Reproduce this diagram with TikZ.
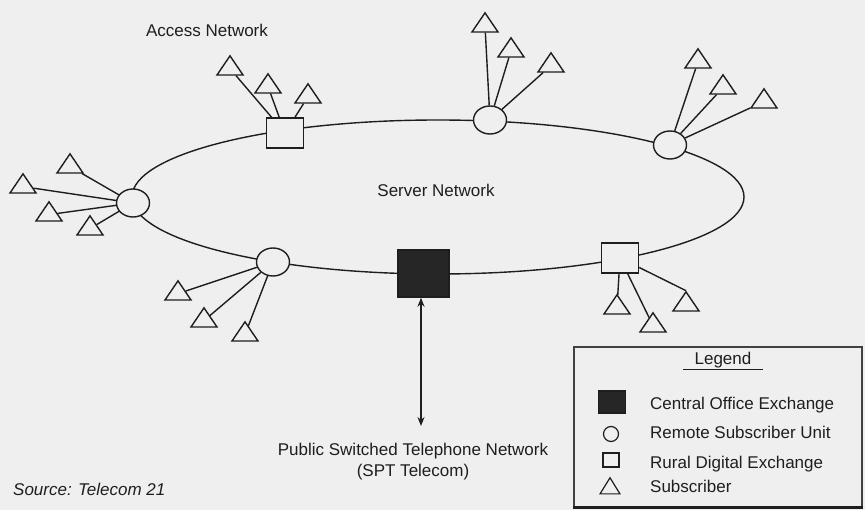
\documentclass[tikz,border=0pt]{standalone}
\usepackage{fontspec}
\setmainfont{Liberation Sans}
\usetikzlibrary{shapes.geometric,arrows.meta}
\definecolor{paper}{HTML}{EFEFEF}
\definecolor{ink}{HTML}{1E1E1E}
\definecolor{solid}{HTML}{262626}
\tikzset{
  lbl/.style={font=\fontsize{17}{21}\selectfont, text=ink, inner sep=0pt},
  link/.style={draw=ink, line width=1.4pt},
  rsu/.style={ellipse, draw=ink, line width=1.4pt, fill=paper,
    minimum width=33pt, minimum height=28pt, inner sep=0pt},
  rde/.style={rectangle, draw=ink, line width=1.4pt, fill=paper,
    minimum width=37pt, minimum height=30pt, inner sep=0pt},
  coe/.style={rectangle, draw=ink, line width=1.4pt, fill=solid,
    minimum width=51pt, minimum height=47pt, inner sep=0pt},
  sub/.style={regular polygon, regular polygon sides=3, draw=ink,
    line width=1.4pt, fill=paper, minimum size=30pt, inner sep=0pt,
    yscale=0.85},
}
\begin{document}
\begin{tikzpicture}[x=1pt, y=-1pt]
  % page
  \fill[paper] (0,0) rectangle (865,510);
  \useasboundingbox (0,0) rectangle (865,510);

  % server network ring
  \draw[link] (438,197) ellipse [x radius=306, y radius=77];

  % access nodes on the ring
  \node[rsu] (rsuW)  at (133,203) {};
  \node[rde] (rdeNW) at (285,133) {};
  \node[rsu] (rsuN)  at (490,120) {};
  \node[rsu] (rsuNE) at (670,145) {};
  \node[rde] (rdeSE) at (620,258) {};
  \node[coe] (coe)   at (423.5,273.5) {};
  \node[rsu] (rsuSW) at (273,262) {};

  % subscribers
  \node[sub] (s1)  at (230,68.6) {};
  \node[sub] (s2)  at (268,86.6) {};
  \node[sub] (s3)  at (308,96.6) {};
  \node[sub] (s4)  at (70,166.6) {};
  \node[sub] (s5)  at (23,186.6) {};
  \node[sub] (s6)  at (49,214.6) {};
  \node[sub] (s7)  at (90,228.6) {};
  \node[sub] (s8)  at (485,25.6) {};
  \node[sub] (s9)  at (511,50.6) {};
  \node[sub] (s10) at (551,65.6) {};
  \node[sub] (s11) at (698,61.6) {};
  \node[sub] (s12) at (723,87.6) {};
  \node[sub] (s13) at (764,101.6) {};
  \node[sub] (s14) at (178,293.6) {};
  \node[sub] (s15) at (204,320.6) {};
  \node[sub] (s16) at (245,334.6) {};
  \node[sub] (s17) at (617,307.6) {};
  \node[sub] (s18) at (653,325.6) {};
  \node[sub] (s19) at (686,304.6) {};

  % subscriber lines
  \draw[link] (rdeNW) -- (s1);
  \draw[link] (rdeNW) -- (s2);
  \draw[link] (rdeNW) -- (s3);
  \draw[link] (rsuW) -- (s4);
  \draw[link] (rsuW) -- (s5);
  \draw[link] (rsuW) -- (s6);
  \draw[link] (rsuW) -- (s7);
  \draw[link] (rsuN) -- (s8);
  \draw[link] (rsuN) -- (s9);
  \draw[link] (rsuN) -- (s10);
  \draw[link] (rsuNE) -- (s11);
  \draw[link] (rsuNE) -- (s12);
  \draw[link] (rsuNE) -- (s13);
  \draw[link] (rsuSW) -- (s14);
  \draw[link] (rsuSW) -- (s15);
  \draw[link] (rsuSW) -- (s16);
  \draw[link] (rdeSE) -- (s17);
  \draw[link] (rdeSE) -- (s18);
  \draw[link] (rdeSE) -- (s19.north);

  % link to the public network
  \coordinate (pstnTip) at (421,426);
  \draw[ink, line width=1.6pt, {Stealth[length=9pt,width=7pt]}-{Stealth[length=9pt,width=7pt]}]
    (coe.south -| pstnTip) -- (pstnTip);

  % labels
  \node[lbl, anchor=base] (accLbl) at (207,36.5) {Access Network};
  \node[lbl, anchor=base] (srvLbl) at (436,197) {Server Network};
  \node[lbl, anchor=base] (pstn1) at (413,455) {Public Switched Telephone Network};
  \node[lbl, anchor=base] (pstn2) at (413,476) {(SPT Telecom)};
  \node[lbl, anchor=base west, font=\fontsize{17}{21}\selectfont\itshape] (src) at (13,495) {Source: Telecom 21};

  % legend
  \draw[ink!85, line width=1.3pt] (574,347) rectangle (862,507);
  \draw[ink, line width=3pt] (573,507.5) -- (863,507.5);
  \node[lbl, anchor=base] (lgTitle) at (723,365) {Legend};
  \draw[ink, line width=0.9pt] (683,369.5) -- (763,369.5);

  \node[coe, minimum width=27pt, minimum height=22pt] (lgCO) at (612,402) {};
  \node[rsu, minimum width=15pt, minimum height=15pt, line width=1.2pt] (lgRSU) at (611,434) {};
  \node[rde, minimum width=16pt, minimum height=14pt, line width=1.1pt] (lgRDE) at (611,460) {};
  \node[sub, minimum size=23pt, yscale=1.1, line width=1.2pt] (lgSub) at (610,488.5) {};

  \node[lbl, anchor=base west] (lgCOt)  at (650,410) {Central Office Exchange};
  \node[lbl, anchor=base west] (lgRSUt) at (650,438.7) {Remote Subscriber Unit};
  \node[lbl, anchor=base west] (lgRDEt) at (650,468.5) {Rural Digital Exchange};
  \node[lbl, anchor=base west] (lgSubt) at (650,492) {Subscriber};
\end{tikzpicture}
\end{document}
